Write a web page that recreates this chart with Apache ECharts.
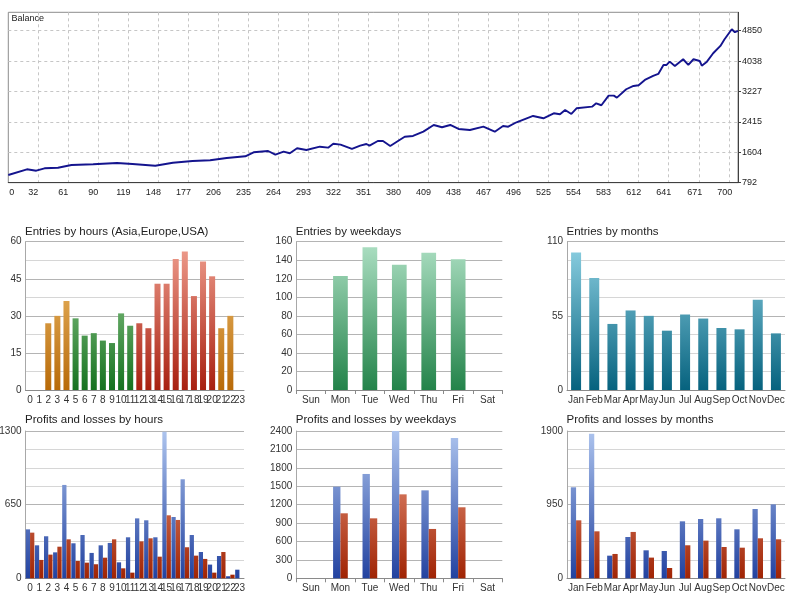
<!DOCTYPE html>
<html>
<head>
<meta charset="utf-8">
<script src="https://cdn.jsdelivr.net/npm/echarts@6/dist/echarts.min.js"></script>
<style>
  html, body { margin: 0; padding: 0; background: #fff; }
  #main { width: 809px; height: 600px; }
</style>
</head>
<body>
<div id="main"></div>
<script>
// balance curve (trade number, balance)
const balanceTrade = [3, 21, 30, 38, 51, 64, 85, 108, 123, 145, 162, 181, 198, 214, 232, 240, 254, 261, 269, 275,
  282, 291, 304, 312, 317, 324, 335, 343, 349, 352, 360, 365, 372, 381, 386, 394, 404, 414, 422, 430,
  438, 449, 462, 473, 481, 486, 494, 510, 520, 530, 536, 541, 547, 552, 567, 571, 576, 583, 588, 591,
  600, 607, 612, 618, 626, 631, 636, 639, 642, 647, 655, 660, 665, 671, 673, 678, 684, 691, 695, 702, 705, 708];
const balanceValue = [998, 1150, 1112, 1176, 1192, 1265, 1283, 1318, 1291, 1246, 1326, 1371, 1390, 1451, 1497, 1604, 1638, 1540, 1620, 1577,
  1710, 1665, 1753, 1727, 1833, 1807, 1692, 1780, 1825, 1780, 1905, 1905, 1772, 1932, 2020, 2039, 2154, 2333, 2271, 2333,
  2226, 2199, 2287, 2154, 2306, 2287, 2405, 2573, 2511, 2645, 2618, 2733, 2626, 2778, 2821, 2912, 2859, 3115, 3115, 3062,
  3286, 3374, 3393, 3534, 3641, 3694, 3935, 3935, 4023, 3908, 4087, 3935, 4087, 4041, 3916, 4023, 4247, 4442, 4621, 4888, 4808, 4842];
const balanceXTicks = [0, 32, 61, 90, 119, 148, 177, 206, 235, 264, 293, 322, 351, 380, 409, 438, 467, 496, 525, 554, 583, 612, 641, 671, 700];
const balanceYTicks = [792, 1604, 2415, 3227, 4038, 4850];
const balanceXMin = 3, balanceXMax = 708;
const balanceYMin = 792, balanceYMax = 5340;

const hours = ['0', '1', '2', '3', '4', '5', '6', '7', '8', '9', '10', '11', '12', '13', '14', '15', '16', '17', '18', '19', '20', '21', '22', '23'];
const hourSession = ['Asia', 'Asia', 'Asia', 'Asia', 'Asia', 'Europe', 'Europe', 'Europe', 'Europe', 'Europe', 'Europe', 'Europe',
  'USA', 'USA', 'USA', 'USA', 'USA', 'USA', 'USA', 'USA', 'USA', 'Asia', 'Asia', 'Asia'];
const entriesByHour = [0, 0, 27, 30, 36, 29, 22, 23, 20, 19, 31, 26, 27, 25, 43, 43, 53, 56, 38, 52, 46, 25, 30, 0];
const profitByHour = [432, 291, 371, 229, 824, 309, 382, 224, 291, 312, 141, 362, 529, 512, 362, 1294, 541, 874, 382, 232, 121, 197, 18, 76];
const lossByHour = [403, 162, 209, 279, 344, 153, 138, 124, 182, 344, 88, 50, 326, 353, 191, 556, 515, 274, 200, 171, 50, 232, 32, 0];

const weekdays = ['Sun', 'Mon', 'Tue', 'Wed', 'Thu', 'Fri', 'Sat'];
const entriesByWeekday = [0, 123, 154, 135, 148, 141, 0];
const profitByWeekday = [0, 1493, 1700, 2400, 1433, 2286, 0];
const lossByWeekday = [0, 1059, 977, 1368, 804, 1157, 0];

const months = ['Jan', 'Feb', 'Mar', 'Apr', 'May', 'Jun', 'Jul', 'Aug', 'Sep', 'Oct', 'Nov', 'Dec'];
const entriesByMonth = [102, 83, 49, 59, 55, 44, 56, 53, 46, 45, 67, 42];
const profitByMonth = [1174, 1866, 292, 533, 361, 352, 735, 765, 774, 632, 894, 954];
const lossByMonth = [748, 606, 314, 598, 267, 133, 426, 486, 404, 395, 516, 503];

// layout of the six small panels
const row1Top = 241.7, row1Bottom = 390;
const row2Top = 431, row2Bottom = 578.3;
const cols = [[25.5, 244], [296.3, 502.3], [567, 785]];
const font = 'Liberation Sans, Arial, sans-serif';

function grad(top, bottom, c1, c2) {
  return new echarts.graphic.LinearGradient(0, top, 0, bottom,
    [{ offset: 0, color: c1 }, { offset: 1, color: c2 }], true);
}

const sessionColor = {
  Asia: grad(row1Top, row1Bottom, '#f4c678', '#b86a08'),
  Europe: grad(row1Top, row1Bottom, '#a6d8a0', '#167220'),
  USA: grad(row1Top, row1Bottom, '#f0a090', '#a82010')
};

function smallGrid(col, top, bottom) {
  return {
    left: cols[col][0], top: top, width: cols[col][1] - cols[col][0], height: bottom - top,
    outerBoundsMode: 'none', containLabel: false
  };
}

function smallX(grid, data, ticks) {
  return {
    type: 'category', gridIndex: grid, data: data,
    axisLine: { lineStyle: { color: '#8a8a8a' } },
    axisTick: { show: ticks, length: 4, lineStyle: { color: '#8a8a8a' } },
    axisLabel: { interval: 0, hideOverlap: false, fontSize: 10, color: '#333', margin: 5, fontFamily: font }
  };
}

function smallY(grid, max, step, minor) {
  return {
    type: 'value', gridIndex: grid, min: 0, max: max, interval: step,
    axisLine: { show: true, lineStyle: { color: '#a8a8a8' } },
    axisTick: { show: false },
    axisLabel: { fontSize: 10, color: '#333', margin: 4, fontFamily: font, formatter: v => String(v) },
    splitLine: { lineStyle: { color: '#b4b4b4' } },
    minorTick: { show: false, splitNumber: minor },
    minorSplitLine: { show: minor > 1, lineStyle: { color: '#d6d6d6' } }
  };
}

function smallTitle(text, col, top) {
  return {
    text: text, left: cols[col][0] - 0.5, top: top, padding: 0,
    textStyle: { fontSize: 11.5, fontWeight: 'normal', color: '#222', fontFamily: font }
  };
}

const blue2 = grad(row2Top, row2Bottom, '#adc4ee', '#2242a0');
const red2 = grad(row2Top, row2Bottom, '#f2a48c', '#a02404');

const chart = echarts.init(document.getElementById('main'));

chart.setOption({
  animation: false,
  textStyle: { fontFamily: font },
  title: [
    { text: 'Balance', left: 11.5, top: 14.5, padding: 0,
      textStyle: { fontSize: 9, fontWeight: 'normal', color: '#222', fontFamily: font } },
    smallTitle('Entries by hours (Asia,Europe,USA)', 0, 226),
    smallTitle('Entries by weekdays', 1, 226),
    smallTitle('Entries by months', 2, 226),
    smallTitle('Profits and losses by hours', 0, 414),
    smallTitle('Profits and losses by weekdays', 1, 414),
    smallTitle('Profits and losses by months', 2, 414)
  ],
  grid: [
    { left: 8.3, top: 12.3, width: 729.7, height: 170.4, show: true, borderColor: '#8c8c8c', borderWidth: 1,
      outerBoundsMode: 'none', containLabel: false },
    smallGrid(0, row1Top, row1Bottom),
    smallGrid(1, row1Top, row1Bottom),
    smallGrid(2, row1Top, row1Bottom),
    smallGrid(0, row2Top, row2Bottom),
    smallGrid(1, row2Top, row2Bottom),
    smallGrid(2, row2Top, row2Bottom)
  ],
  xAxis: [
    {
      type: 'value', gridIndex: 0, min: balanceXMin, max: balanceXMax,
      axisLine: { show: true, lineStyle: { color: '#404040' } },
      axisTick: { show: false, customValues: balanceXTicks.slice(1) },
      axisLabel: {
        customValues: balanceXTicks.map(v => Math.max(v, balanceXMin)),
        formatter: v => (v === balanceXMin ? '{first|' + balanceXTicks[0] + '}' : String(v)),
        rich: { first: { padding: [0, 0, 0, 17], fontSize: 9, color: '#222' } },
        fontSize: 9, color: '#222', margin: 5, padding: [0, 10, 0, 0], fontFamily: font
      },
      splitLine: { show: true, lineStyle: { color: '#c6c6c6', type: [3, 3] } }
    },
    smallX(1, hours, false),
    smallX(2, weekdays, true),
    smallX(3, months, false),
    smallX(4, hours, false),
    smallX(5, weekdays, true),
    smallX(6, months, false)
  ],
  yAxis: [
    {
      type: 'value', gridIndex: 0, position: 'right', min: balanceYMin, max: balanceYMax,
      axisLine: { show: true, lineStyle: { color: '#404040' } },
      axisTick: { show: true, length: 3, customValues: balanceYTicks, lineStyle: { color: '#404040' } },
      axisLabel: { customValues: balanceYTicks, formatter: v => String(v), fontSize: 9, color: '#222', margin: 4, fontFamily: font },
      splitLine: { show: true, lineStyle: { color: '#c6c6c6', type: [3, 3] } }
    },
    smallY(1, 60, 15, 2),
    smallY(2, 160, 20, 1),
    smallY(3, 110, 55, 4),
    smallY(4, 1300, 650, 4),
    smallY(5, 2400, 300, 1),
    smallY(6, 1900, 950, 4)
  ],
  series: [
    {
      type: 'line', xAxisIndex: 0, yAxisIndex: 0, symbol: 'none',
      data: balanceTrade.map((t, i) => [t, balanceValue[i]]),
      lineStyle: { color: '#14148e', width: 1.9 }
    },
    {
      type: 'bar', xAxisIndex: 1, yAxisIndex: 1, barWidth: '66%',
      data: entriesByHour.map((v, i) => ({ value: v, itemStyle: { color: sessionColor[hourSession[i]] } }))
    },
    {
      type: 'bar', xAxisIndex: 2, yAxisIndex: 2, barWidth: '50%',
      data: entriesByWeekday,
      itemStyle: { color: grad(row1Top, row1Bottom, '#aee0c4', '#23834a') }
    },
    {
      type: 'bar', xAxisIndex: 3, yAxisIndex: 3, barWidth: '55%',
      data: entriesByMonth,
      itemStyle: { color: grad(row1Top, row1Bottom, '#8fd2e4', '#06627e') }
    },
    { type: 'bar', xAxisIndex: 4, yAxisIndex: 4, barWidth: '47%', barGap: '0%', data: profitByHour, itemStyle: { color: blue2 } },
    { type: 'bar', xAxisIndex: 4, yAxisIndex: 4, barWidth: '47%', barGap: '0%', data: lossByHour, itemStyle: { color: red2 } },
    { type: 'bar', xAxisIndex: 5, yAxisIndex: 5, barWidth: '25%', barGap: '0%', data: profitByWeekday, itemStyle: { color: blue2 } },
    { type: 'bar', xAxisIndex: 5, yAxisIndex: 5, barWidth: '25%', barGap: '0%', data: lossByWeekday, itemStyle: { color: red2 } },
    { type: 'bar', xAxisIndex: 6, yAxisIndex: 6, barWidth: '29%', barGap: '0%', data: profitByMonth, itemStyle: { color: blue2 } },
    { type: 'bar', xAxisIndex: 6, yAxisIndex: 6, barWidth: '29%', barGap: '0%', data: lossByMonth, itemStyle: { color: red2 } }
  ]
});
</script>
</body>
</html>
